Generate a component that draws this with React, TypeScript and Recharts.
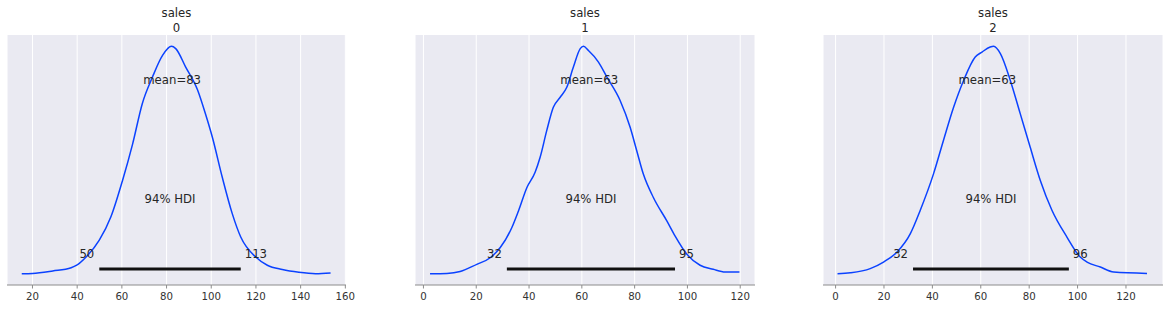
import { LineChart, Line, XAxis, YAxis, CartesianGrid, ReferenceLine, ReferenceDot } from 'recharts';

// density curves (x value, relative height; peak = 1)
const sales0X = [15.2, 20, 29.1, 37.3, 39.8, 44, 49.9, 55.1, 60.3, 64.8, 69.2, 73.7, 78.2, 82.2, 84.1, 88.5, 93.8, 97.5, 100.5, 104.9, 109.4, 113.2, 119.9, 125.1, 131.8, 139.2, 146.7, 153.4];
const sales0Y = [0, 0.001, 0.012, 0.026, 0.037, 0.073, 0.147, 0.25, 0.41, 0.57, 0.75, 0.865, 0.96, 1.0, 0.99, 0.91, 0.81, 0.7, 0.6, 0.425, 0.264, 0.161, 0.073, 0.037, 0.018, 0.006, 0, 0.003];

const sales1X = [2.5, 8.9, 13.9, 20.2, 25.3, 29.1, 33.5, 36, 39.2, 42.3, 44.2, 46.7, 49.2, 51.8, 54.3, 56.8, 59.4, 60.6, 62.5, 66.3, 69.5, 74.5, 78.3, 80.8, 83.3, 87.1, 92.2, 95.3, 99.8, 104.8, 109.8, 114.3, 119.7];
const sales1Y = [0, 0.001, 0.009, 0.041, 0.07, 0.115, 0.203, 0.276, 0.379, 0.446, 0.512, 0.629, 0.732, 0.776, 0.82, 0.909, 0.99, 1.0, 0.982, 0.931, 0.865, 0.762, 0.644, 0.541, 0.438, 0.335, 0.232, 0.166, 0.085, 0.037, 0.019, 0.007, 0.007];

const sales2X = [0.8, 6.1, 14.3, 19.8, 25.4, 30.9, 35, 40.5, 44.6, 48.8, 52.9, 57.7, 60.5, 63.9, 65.3, 68.1, 72.2, 76.3, 80.4, 84.6, 89.4, 95.6, 101.1, 103.9, 109.4, 114.9, 128.7];
const sales2Y = [0, 0.004, 0.022, 0.051, 0.095, 0.176, 0.279, 0.44, 0.587, 0.733, 0.85, 0.953, 0.975, 0.997, 1.0, 0.968, 0.85, 0.704, 0.557, 0.41, 0.279, 0.161, 0.073, 0.051, 0.029, 0.007, 0.001];

const ticks0 = [20, 40, 60, 80, 100, 120, 140, 160];
const ticks1 = [0, 20, 40, 60, 80, 100, 120];
const ticks2 = [0, 20, 40, 60, 80, 100, 120];

const titles = ['0', '1', '2'];
const means = [83, 63, 63];
const meanPos = [82.5, 62.8, 62.7];
const hdiLow = [50, 32, 32];
const hdiHigh = [113, 95, 96];
const hdiLowPos = [49.9, 31.6, 32];
const hdiHighPos = [113.2, 95.3, 96.4];

const BLUE = '#0b42ff';
const FONT = '"DejaVu Sans", sans-serif';

const panels = [
  { xs: sales0X, ys: sales0Y, ticks: ticks0, domain: [8.6, 160.3], left: 7, width: 339 },
  { xs: sales1X, ys: sales1Y, ticks: ticks1, domain: [-3.2, 125.6], left: 415, width: 340 },
  { xs: sales2X, ys: sales2Y, ticks: ticks2, domain: [-5.2, 135.3], left: 823, width: 340 },
];

function Panel({ idx }: { idx: number }) {
  const p = panels[idx];
  const data = p.xs.map((x, i) => ({ x, d: p.ys[i] }));
  const padL = 10;
  const padR = 30;
  const labelStyle = { fontSize: 11.7, fill: '#262626', fontFamily: FONT };
  return (
    <div style={{ position: 'absolute', left: p.left - padL, top: 0 }}>
      <div style={{ position: 'absolute', left: padL, width: p.width, top: 6, textAlign: 'center', fontFamily: FONT, fontSize: 11.7, color: '#262626', lineHeight: '14.5px' }}>
        sales
        <br />
        {titles[idx]}
      </div>
      <LineChart width={p.width + padL + padR} height={309} data={data} margin={{ top: 35, right: padR, bottom: 0, left: padL }}>
        <CartesianGrid horizontal={false} stroke="#ffffff" strokeWidth={1} fill="#eaeaf2" fillOpacity={1} />
        <XAxis
          dataKey="x"
          type="number"
          domain={p.domain}
          ticks={p.ticks}
          allowDataOverflow
          height={24}
          tickSize={3.5}
          tickMargin={4}
          axisLine={{ stroke: '#8c8c8c', strokeWidth: 1.2 }}
          tickLine={{ stroke: '#8c8c8c' }}
          tick={{ fontSize: 10.2, fill: '#333333', fontFamily: FONT }}
          interval={0}
        />
        <YAxis hide type="number" domain={[-0.05, 1.05]} allowDataOverflow />
        <Line type="monotone" dataKey="d" stroke={BLUE} strokeWidth={1.5} dot={false} isAnimationActive={false} />
        <ReferenceLine
          segment={[{ x: hdiLowPos[idx], y: 0.02 }, { x: hdiHighPos[idx], y: 0.02 }]}
          stroke="#111111"
          strokeWidth={3}
        />
        <ReferenceDot x={meanPos[idx]} y={0.852} r={0} stroke="none" fill="none"
          label={{ value: `mean=${means[idx]}`, position: 'center', ...labelStyle }} />
        <ReferenceDot x={(hdiLowPos[idx] + hdiHighPos[idx]) / 2} y={0.328} r={0} stroke="none" fill="none"
          label={{ value: '94% HDI', position: 'center', ...labelStyle }} />
        <ReferenceDot x={hdiLowPos[idx]} y={0.086} r={0} stroke="none" fill="none"
          label={{ value: String(hdiLow[idx]), position: 'left', offset: 5, ...labelStyle }} />
        <ReferenceDot x={hdiHighPos[idx]} y={0.086} r={0} stroke="none" fill="none"
          label={{ value: String(hdiHigh[idx]), position: 'right', offset: 4, ...labelStyle }} />
      </LineChart>
    </div>
  );
}

export default function App() {
  return (
    <div style={{ position: 'absolute', left: 0, top: 0, width: 1169, height: 309, background: '#ffffff', overflow: 'hidden' }}>
      <Panel idx={0} />
      <Panel idx={1} />
      <Panel idx={2} />
    </div>
  );
}
